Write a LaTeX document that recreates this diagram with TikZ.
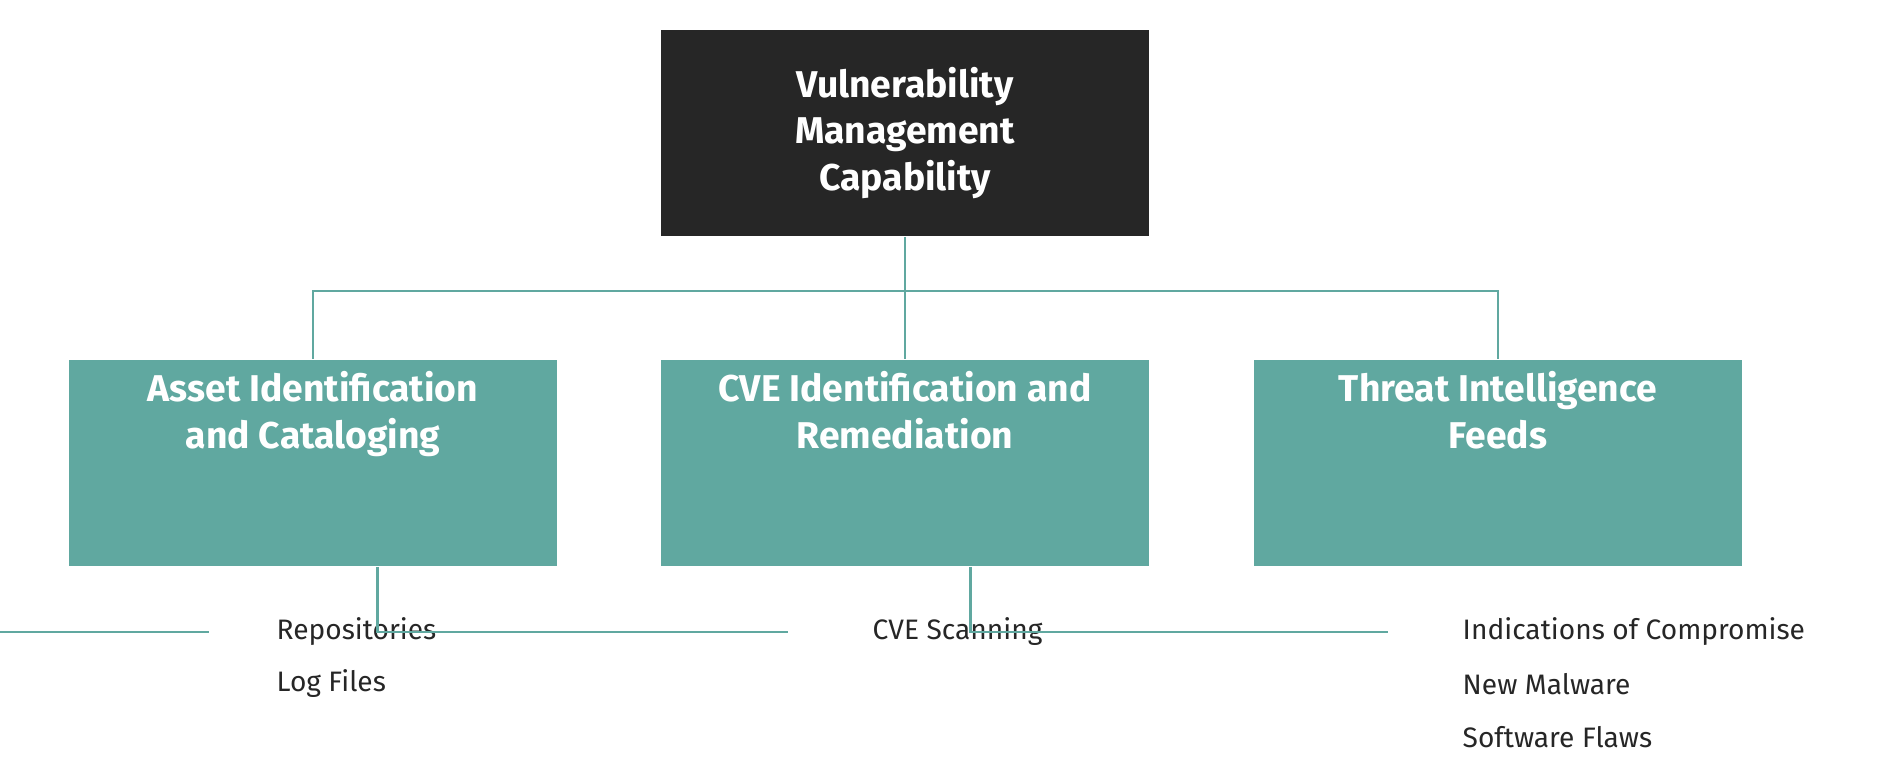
\documentclass[tikz,border=0pt]{standalone}
\usepackage{fontspec}
\setmainfont{Fira Sans}
\definecolor{teal1}{HTML}{60A8A0}
\definecolor{dark1}{HTML}{262626}
\definecolor{txt1}{HTML}{262626}
\begin{document}
\begin{tikzpicture}[x=0.01cm,y=-0.01cm,
  box/.style={minimum width=4.885cm,minimum height=2.06cm,inner sep=0pt,align=center,text=white,font=\fontsize{10.6}{13.2}\selectfont\bfseries},
  link/.style={draw=teal1,line width=0.75pt},
  item/.style={anchor=west,inner sep=0pt,text=txt1,font=\fontsize{8}{9.6}\selectfont}]
\useasboundingbox (0,0) rectangle (1900,782);
\node[box,fill=dark1] (top) at (905,133) {Vulnerability\\Management\\Capability};
\node[box,fill=teal1] (a) at (313,463) {Asset Identification\\and Cataloging\\[1.6em]};
\node[box,fill=teal1] (b) at (905,463) {CVE Identification and\\Remediation\\[1.6em]};
\node[box,fill=teal1] (c) at (1498,463) {Threat Intelligence\\Feeds\\[1.6em]};
\coordinate (j) at (905,291);
\draw[link] (top.south) -- (b.north);
\draw[link] (a.north) |- (j) -| (c.north);
\node[item] (a1) at (276,632) {Repositories};
\node[item] (a2) at (276,684) {Log Files};
\node[item] (b1) at (872,632) {CVE Scanning};
\node[item] (c1) at (1462,632) {Indications of Compromise};
\node[item] (c2) at (1462,684) {New Malware};
\node[item] (c3) at (1462,737) {Software Flaws};
\draw[link] ([xshift=-151]a.south) |- ([xshift=-19]a1.west);
\draw[link] ([xshift=-150]b.south) |- ([xshift=-24]b1.west);
\draw[link] ([xshift=-150]c.south) |- ([xshift=-21]c1.west);
\end{tikzpicture}
\end{document}
